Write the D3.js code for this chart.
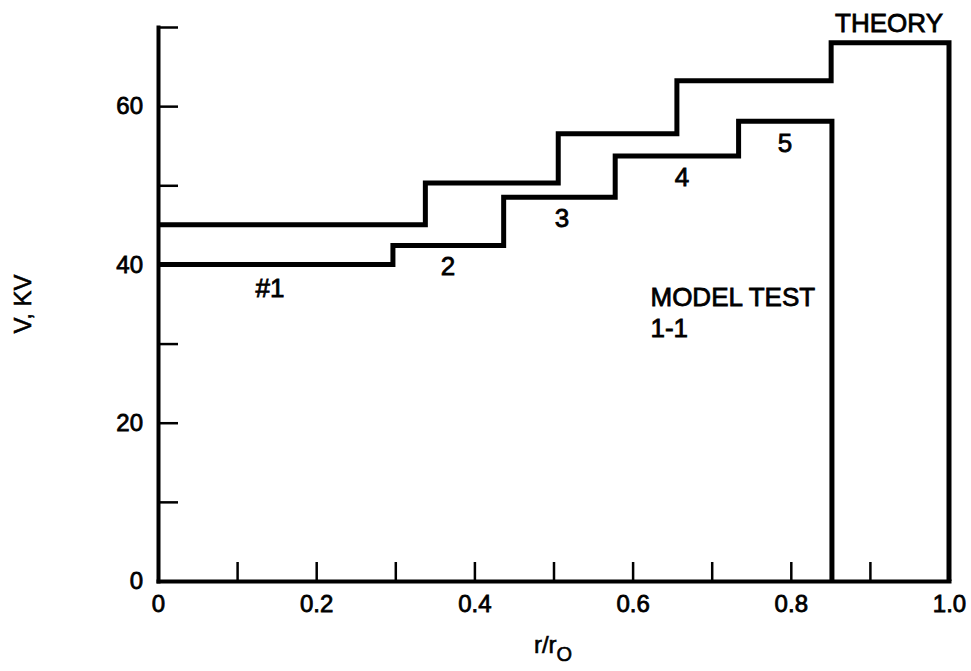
<!DOCTYPE html>
<html>
<head>
<meta charset="utf-8">
<script src="https://cdn.jsdelivr.net/npm/d3@7"></script>
<style>
  body { margin: 0; background: #fff; }
  svg { display: block; }
  text { font-family: "Liberation Sans", Arial, Helvetica, sans-serif; fill: #000; }
</style>
</head>
<body>
<svg></svg>
<script>
const WIDTH = 971;
const HEIGHT = 671;

// theory curve (upper staircase): r/ro where each level starts, V in kV
var theoryR = [0, 0.338, 0.506, 0.656, 0.851, 1.0, 1.0];
var theoryV = [45, 50.3, 56.5, 63.2, 68, 68, 0];

// model test 1-1 (lower staircase), zones #1..5
var modelR = [0, 0.297, 0.437, 0.578, 0.734, 0.852, 0.852];
var modelV = [40, 42.4, 48.5, 53.7, 58.1, 58.1, 0];

// axis ticks
var xTicks = [0, 0.1, 0.2, 0.3, 0.4, 0.5, 0.6, 0.7, 0.8, 0.9, 1.0];
var xLabels = ['0', '', '0.2', '', '0.4', '', '0.6', '', '0.8', '', '1.0'];
var yTicks = [0, 10, 20, 30, 40, 50, 60, 70];
var yLabels = ['0', '', '20', '', '40', '', '60', ''];

// text annotations, placed in data units
var notes = [
  { text: '#1', r: 0.1416, v: 35.9, anchor: 'middle' },
  { text: '2', r: 0.3666, v: 38.7, anchor: 'middle' },
  { text: '3', r: 0.5107, v: 44.7, anchor: 'middle' },
  { text: '4', r: 0.6625, v: 49.9, anchor: 'middle' },
  { text: '5', r: 0.7927, v: 54.2, anchor: 'middle' },
  { text: 'MODEL TEST', r: 0.6226, v: 34.7, anchor: 'start' },
  { text: '1-1', r: 0.6226, v: 30.8, anchor: 'start' },
  { text: 'THEORY', r: 0.9924, v: 69.4, anchor: 'end' }
];

var svg = d3.select('svg')
    .attr('width', WIDTH)
    .attr('height', HEIGHT);

svg.append('rect').attr('width', WIDTH).attr('height', HEIGHT).attr('fill', '#fff');

var xScale = d3.scaleLinear().domain([0, 1]).range([158, 949]);
var yScale = d3.scaleLinear().domain([0, 70]).range([581, 27]);

// x axis, ticks pointing inward
var xAxis = d3.axisBottom(xScale)
    .tickValues(xTicks)
    .tickSizeInner(-19)
    .tickSizeOuter(0)
    .tickPadding(14)
    .tickFormat(function(d, i){ return xLabels[i]; });

var gx = svg.append('g')
    .attr('transform', 'translate(0,' + yScale(0) + ')')
    .call(xAxis);

// y axis, ticks pointing right
var yAxis = d3.axisLeft(yScale)
    .tickValues(yTicks)
    .tickSizeInner(-20)
    .tickSizeOuter(0)
    .tickPadding(15)
    .tickFormat(function(d, i){ return yLabels[i]; });

var gy = svg.append('g')
    .attr('transform', 'translate(' + xScale(0) + ',0)')
    .call(yAxis);

[gx, gy].forEach(function(g){
  g.select('.domain').attr('stroke', '#000').attr('stroke-width', 4).attr('stroke-linecap', 'square');
  g.selectAll('.tick line').attr('stroke', '#000').attr('stroke-width', 2.5);
  g.selectAll('.tick text')
      .attr('font-size', 24)
      .attr('fill', '#000')
      .attr('stroke', '#000')
      .attr('stroke-width', 0.8)
      .style('font-family', '"Liberation Sans", Arial, sans-serif');
});
// no tick mark drawn on top of the x=0 / v=0 corner
gx.selectAll('.tick').filter(function(d){ return d === 0; }).select('line').remove();
gy.selectAll('.tick').filter(function(d){ return d === 0; }).select('line').remove();

// staircase lines
var line = d3.line()
    .x(function(d){ return xScale(d[0]); })
    .y(function(d){ return yScale(d[1]); })
    .curve(d3.curveStepAfter);

var series = [
  d3.zip(theoryR, theoryV),
  d3.zip(modelR, modelV)
];

svg.selectAll('path.step')
    .data(series)
    .enter()
    .append('path')
    .attr('class', 'step')
    .attr('d', line)
    .attr('fill', 'none')
    .attr('stroke', '#000')
    .attr('stroke-width', 5)
    .attr('stroke-linejoin', 'miter');

// annotations
svg.selectAll('text.note')
    .data(notes)
    .enter()
    .append('text')
    .attr('class', 'note')
    .attr('x', function(d){ return xScale(d.r); })
    .attr('y', function(d){ return yScale(d.v); })
    .attr('text-anchor', function(d){ return d.anchor; })
    .attr('font-size', 26)
    .attr('stroke', '#000')
    .attr('stroke-width', 0.8)
    .text(function(d){ return d.text; });

// axis titles
var xt = svg.append('text')
    .attr('x', 553)
    .attr('y', 653)
    .attr('text-anchor', 'middle')
    .attr('font-size', 24)
    .attr('stroke', '#000')
    .attr('stroke-width', 0.6);
xt.append('tspan').text('r/r');
xt.append('tspan').attr('dy', 8).attr('font-size', 20).text('O');

svg.append('text')
    .attr('transform', 'translate(31,' + yScale(35) + ') rotate(-90)')
    .attr('text-anchor', 'middle')
    .attr('font-size', 24)
    .attr('stroke', '#000')
    .attr('stroke-width', 0.6)
    .text('V, KV');
</script>
</body>
</html>
